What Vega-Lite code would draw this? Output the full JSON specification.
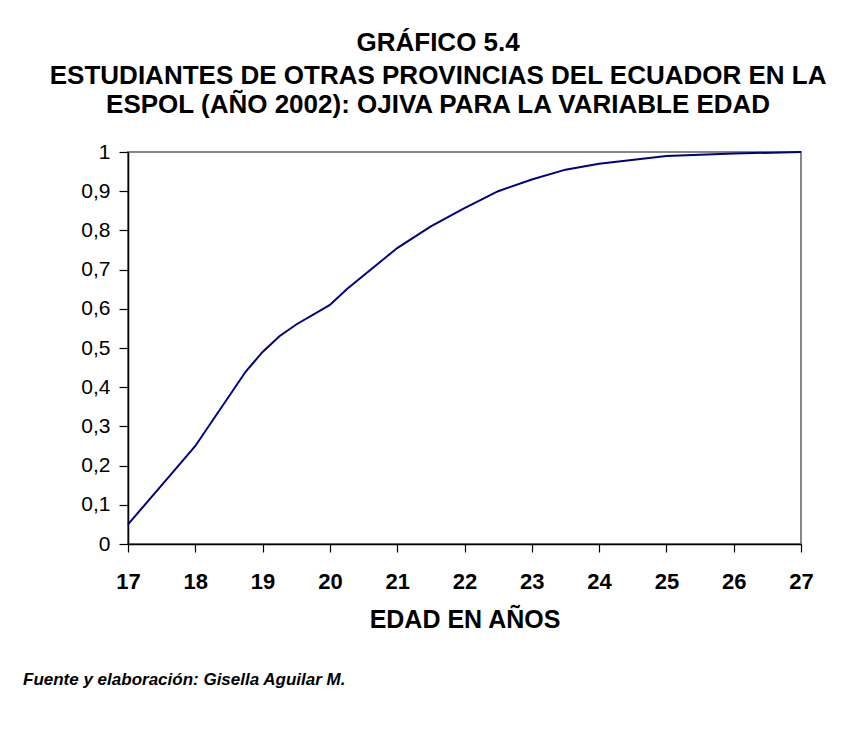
{
  "$schema": "https://vega.github.io/schema/vega-lite/v6.json",
  "background": "white",
  "padding": {"left": 22, "top": 30, "right": 10, "bottom": 10},
  "title": {
    "text": "GRÁFICO 5.4",
    "subtitle": ["ESTUDIANTES DE OTRAS PROVINCIAS DEL ECUADOR EN LA", "ESPOL (AÑO 2002): OJIVA PARA LA VARIABLE EDAD"],
    "font": "Liberation Sans",
    "fontSize": 26,
    "fontWeight": "bold",
    "color": "black",
    "subtitleFont": "Liberation Sans",
    "subtitleFontSize": 26,
    "subtitleFontWeight": "bold",
    "subtitleColor": "black",
    "subtitleLineHeight": 29,
    "subtitlePadding": 7,
    "anchor": "middle",
    "dx": 20,
    "offset": 22
  },
  "vconcat": [
    {
      "width": 673,
      "height": 392,
      "title": {
        "text": "Fuente y elaboración: Gisella Aguilar M.",
        "orient": "bottom",
        "anchor": "start",
        "frame": "group",
        "font": "Liberation Sans",
        "fontSize": 17,
        "fontWeight": "bold",
        "fontStyle": "italic",
        "color": "black",
        "dx": -105,
        "offset": 40
      },
      "data": {
        "values": [
          {"edad": 17, "frecuencia": 0.05},
          {"edad": 17.75, "frecuencia": 0.2},
          {"edad": 18, "frecuencia": 0.25},
          {"edad": 18.75, "frecuencia": 0.44},
          {"edad": 19, "frecuencia": 0.49},
          {"edad": 19.25, "frecuencia": 0.53},
          {"edad": 19.5, "frecuencia": 0.56},
          {"edad": 20, "frecuencia": 0.61},
          {"edad": 20.25, "frecuencia": 0.65},
          {"edad": 20.75, "frecuencia": 0.72},
          {"edad": 21, "frecuencia": 0.755},
          {"edad": 21.5, "frecuencia": 0.81},
          {"edad": 22, "frecuencia": 0.857},
          {"edad": 22.5, "frecuencia": 0.9},
          {"edad": 23, "frecuencia": 0.93},
          {"edad": 23.5, "frecuencia": 0.955},
          {"edad": 24, "frecuencia": 0.97},
          {"edad": 25, "frecuencia": 0.99},
          {"edad": 26, "frecuencia": 0.996},
          {"edad": 27, "frecuencia": 1.0}
        ]
      },
      "mark": {"type": "line", "color": "#000080", "strokeWidth": 2, "clip": false},
      "encoding": {
        "x": {
          "field": "edad",
          "type": "quantitative",
          "scale": {"domain": [17, 27], "nice": false, "zero": false},
          "axis": {
            "title": "EDAD EN AÑOS",
            "values": [17, 18, 19, 20, 21, 22, 23, 24, 25, 26, 27],
            "format": "d",
            "grid": false,
            "domainColor": "black",
            "domainWidth": 1.5,
            "tickColor": "black",
            "tickWidth": 1.2,
            "tickSize": 8,
            "labelFont": "Liberation Sans",
            "labelFontSize": 22,
            "labelFontWeight": "bold",
            "labelColor": "black",
            "labelPadding": 19,
            "labelFlush": false,
            "labelOverlap": false,
            "titleFont": "Liberation Sans",
            "titleFontSize": 25,
            "titleFontWeight": "bold",
            "titleColor": "black",
            "titlePadding": 15
          }
        },
        "y": {
          "field": "frecuencia",
          "type": "quantitative",
          "scale": {"domain": [0, 1], "nice": false},
          "axis": {
            "title": null,
            "values": [0, 0.1, 0.2, 0.3, 0.4, 0.5, 0.6, 0.7, 0.8, 0.9, 1],
            "labelExpr": "replace(format(datum.value, '~g'), '.', ',')",
            "grid": false,
            "domainColor": "black",
            "domainWidth": 1.5,
            "tickColor": "black",
            "tickWidth": 1.2,
            "tickSize": 9,
            "labelFont": "Liberation Sans",
            "labelFontSize": 21,
            "labelColor": "black",
            "labelPadding": 9,
            "labelFlush": false,
            "labelOverlap": false
          }
        }
      }
    }
  ],
  "config": {
    "view": {"stroke": "#868686", "strokeWidth": 2},
    "concat": {"spacing": 0}
  }
}
